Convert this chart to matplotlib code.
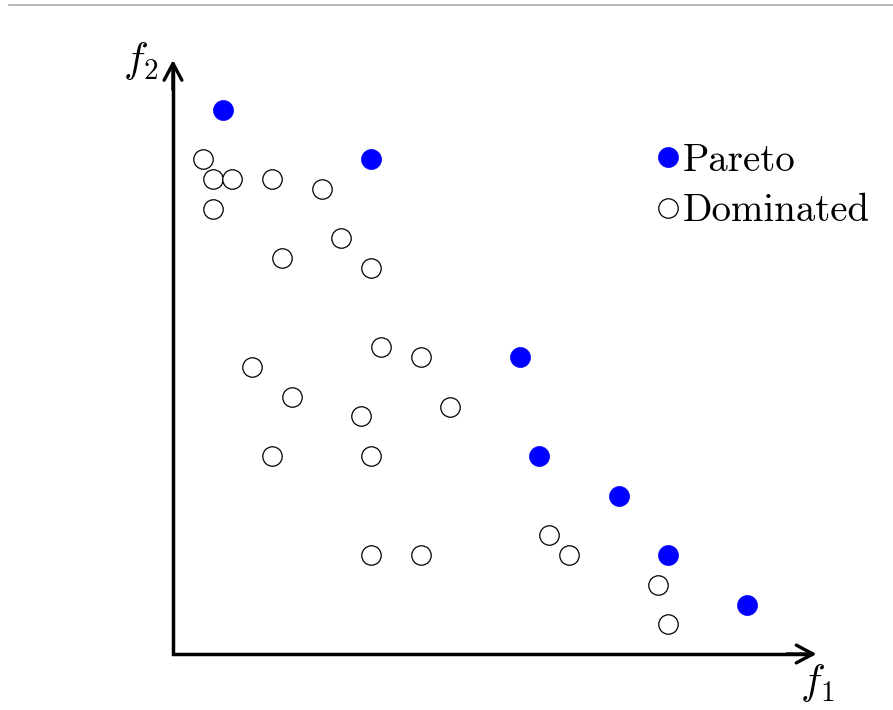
import matplotlib
matplotlib.use("Agg")
import matplotlib.pyplot as plt
from matplotlib.lines import Line2D

plt.rcParams['mathtext.fontset'] = 'cm'

# Data
pareto_f1 = [5, 20, 35, 37, 45, 50, 58]
pareto_f2 = [55, 50, 30, 20, 16, 10, 5]
dominated_f1 = [3, 4, 6, 10, 15, 4, 17, 11, 20, 21, 25, 8, 12, 19, 28, 10, 20, 38, 40, 20, 25, 49, 50]
dominated_f2 = [50, 48, 48, 48, 47, 45, 42, 40, 39, 31, 30, 29, 26, 24, 25, 20, 20, 12, 10, 10, 10, 7, 3]
x_axis_max = 65
y_axis_max = 60
legend_labels = ["Pareto", "Dominated"]
axis_labels = [r"$f_1$", r"$f_2$"]

W, H = 893, 710
fig = plt.figure(figsize=(W / 100, H / 100), dpi=100)
ax = fig.add_axes([0, 0, 1, 1])
ax.set_axis_off()

ox, oy, s = 173, 654, 9.9
ax.set_xlim((0 - ox) / s, (W - ox) / s)
ax.set_ylim((oy - H) / s, oy / s)

# top gray rule
fig.add_artist(Line2D([9 / W, 1], [1 - 5 / H, 1 - 5 / H], color='#aaaaaa', lw=1.2))

# axes
ax.plot([0, 0, x_axis_max - 0.5], [y_axis_max - 0.5, 0, 0], color='black', lw=2.5,
        solid_joinstyle='miter', solid_capstyle='butt', zorder=2)
arrow_kw = dict(arrowstyle='->,head_length=0.6,head_width=0.32', color='black', lw=2.4,
                shrinkA=0, shrinkB=0, mutation_scale=20)
ax.annotate('', xy=(x_axis_max, 0), xytext=(x_axis_max - 3, 0), arrowprops=arrow_kw)
ax.annotate('', xy=(0, y_axis_max), xytext=(0, y_axis_max - 3), arrowprops=arrow_kw)

ax.text(x_axis_max + 0.05, -4.04, axis_labels[0], fontsize=30, ha='center', va='baseline')
ax.text(-1.5, 58.8, axis_labels[1], fontsize=30, ha='right', va='baseline')

# points
ax.plot(pareto_f1, pareto_f2, linestyle='none', marker='o', markersize=14.4,
        markerfacecolor='#0000ff', markeredgecolor='#0000ff', markeredgewidth=0.5,
        label=legend_labels[0], zorder=3)
ax.plot(dominated_f1, dominated_f2, linestyle='none', marker='o', markersize=14,
        markerfacecolor='white', markeredgecolor='black', markeredgewidth=0.9,
        label=legend_labels[1], zorder=3)

leg = ax.legend(loc='upper left', bbox_to_anchor=(656 / W, 1 - 143 / H),
                bbox_transform=fig.transFigure, frameon=False, borderpad=0,
                borderaxespad=0, handlelength=0.6, handletextpad=0.1,
                labelspacing=0.38, prop={'family': 'cmr10', 'size': 28})

fig.savefig('out.png', dpi=100)
